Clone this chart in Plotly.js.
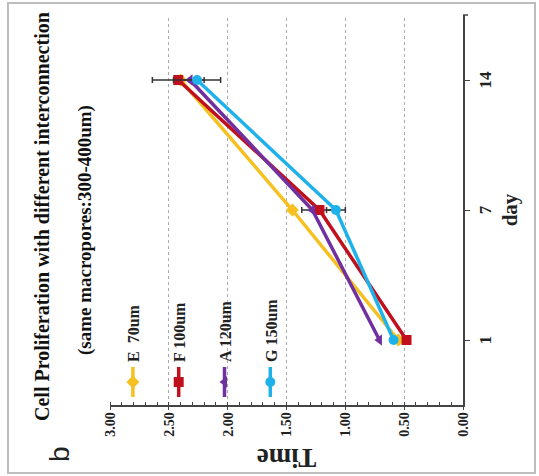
<!DOCTYPE html>
<html>
<head>
<meta charset="utf-8">
<script src="https://cdn.plot.ly/plotly-3.0.1.min.js"></script>
<style>
  html, body { margin: 0; padding: 0; background: #fff; overflow: hidden; width: 539px; height: 476px; }
  #plot { position: absolute; left: 0; top: 0; width: 476px; height: 539px;
          transform-origin: 0 0; transform: translate(0px, 476px) rotate(-90deg); }
</style>
</head>
<body>
<div id="plot"></div>
<script>
// ---- data ----
const days = ['1', '7', '14'];
const seriesNames = ['E  70um', 'F 100um', 'A 120um', 'G 150um'];
const valuesE = [0.55, 1.45, 2.40];
const valuesF = [0.48, 1.22, 2.42];
const valuesA = [0.71, 1.28, 2.32];
const valuesG = [0.59, 1.08, 2.26];
const errorF = [0, 0.15, 0.22];
const errorG = [0, 0.08, 0.20];
const timeTicks = [0, 0.5, 1, 1.5, 2, 2.5, 3];

// ---- layout geometry (unrotated frame 476 x 539) ----
const W = 476, H = 539, L = 71, R = 15, T = 110, B = 76;
const pw = W - L - R, ph = H - T - B;
const px = x => (x - L) / pw;
const py = y => (H - B - y) / ph;

const serif = 'Liberation Serif, Times New Roman, serif';
const colors = ['#F6C120', '#C0101E', '#7030A0', '#1FB2EA'];
const symbols = ['diamond', 'square', 'triangle-up', 'circle'];
const vals = [valuesE, valuesF, valuesA, valuesG];
const errs = [null, errorF, null, errorG];

const traces = vals.map((v, i) => {
  const t = {
    type: 'scatter', mode: 'lines+markers',
    x: days, y: v, name: seriesNames[i], legendgroup: 'g' + i,
    line: { color: colors[i], width: 3.5 },
    marker: { color: colors[i], symbol: symbols[i], size: 10 },
  };
  if (errs[i]) {
    t.error_y = { type: 'data', array: errs[i], visible: true, color: '#333', thickness: 1.5, width: 3 };
  }
  return t;
});

const layout = {
  width: W, height: H,
  margin: { l: L, r: R, t: T, b: B },
  paper_bgcolor: '#fff', plot_bgcolor: '#fff',
  showlegend: true,
  legend: {
    x: px(74), y: py(116), xanchor: 'left', yanchor: 'top',
    bgcolor: 'rgba(0,0,0,0)', traceorder: 'grouped', tracegroupgap: 22,
    font: { family: serif, size: 16, color: '#222', weight: 'bold' }
  },
  xaxis: {
    type: 'category', range: [-0.5, 2.5],
    showline: true, linecolor: '#444', linewidth: 1.5,
    ticks: 'outside', ticklen: 5, tickcolor: '#444', ticklabelstandoff: 1,
    showgrid: false, zeroline: false,
    tickfont: { family: serif, size: 17, color: '#222', weight: 'bold' },
    title: { text: 'day', font: { family: serif, size: 21, color: '#222', weight: 'bold' }, standoff: 8 }
  },
  yaxis: {
    range: [0, 3], tickvals: timeTicks, tickformat: '.2f',
    showline: true, linecolor: '#444', linewidth: 1.5,
    ticks: 'outside', ticklen: 3, tickcolor: '#444',
    minor: { dtick: 0.1, ticks: 'inside', ticklen: 3, tickcolor: '#444', showgrid: false },
    showgrid: true, gridcolor: '#aaa', griddash: 'dot', gridwidth: 1,
    zeroline: false,
    tickfont: { family: serif, size: 14, color: '#222', weight: 'bold' },
    title: { text: 'Time', font: { family: serif, size: 27, color: '#222', weight: 'bold' }, standoff: 4 }
  },
  shapes: [
    { type: 'rect', xref: 'paper', yref: 'paper', x0: px(3), x1: px(473), y0: py(535), y1: py(8),
      line: { color: '#bdbdbd', width: 2 }, fillcolor: 'rgba(0,0,0,0)', layer: 'below' },
    { type: 'line', xref: 'paper', yref: 'paper', x0: px(461), x1: px(461), y0: py(463), y1: py(468),
      line: { color: '#444', width: 1.5 } }
  ],
  annotations: [
    { text: 'Cell Proliferation with different interconnection', xref: 'paper', yref: 'paper',
      x: px(259), y: py(42), xanchor: 'center', yanchor: 'middle', showarrow: false,
      font: { family: serif, size: 20, color: '#111', weight: 'bold' } },
    { text: '(same macropores:300-400um)', xref: 'paper', yref: 'paper',
      x: px(246), y: py(85), xanchor: 'center', yanchor: 'middle', showarrow: false,
      font: { family: serif, size: 19, color: '#111', weight: 'bold' } },
    { text: 'b', xref: 'paper', yref: 'paper',
      x: px(22), y: py(60), xanchor: 'center', yanchor: 'middle', showarrow: false,
      font: { family: 'Liberation Sans, Arial, sans-serif', size: 28, color: '#222' } }
  ]
};

Plotly.newPlot('plot', traces, layout, { displayModeBar: false, staticPlot: true });
</script>
</body>
</html>
